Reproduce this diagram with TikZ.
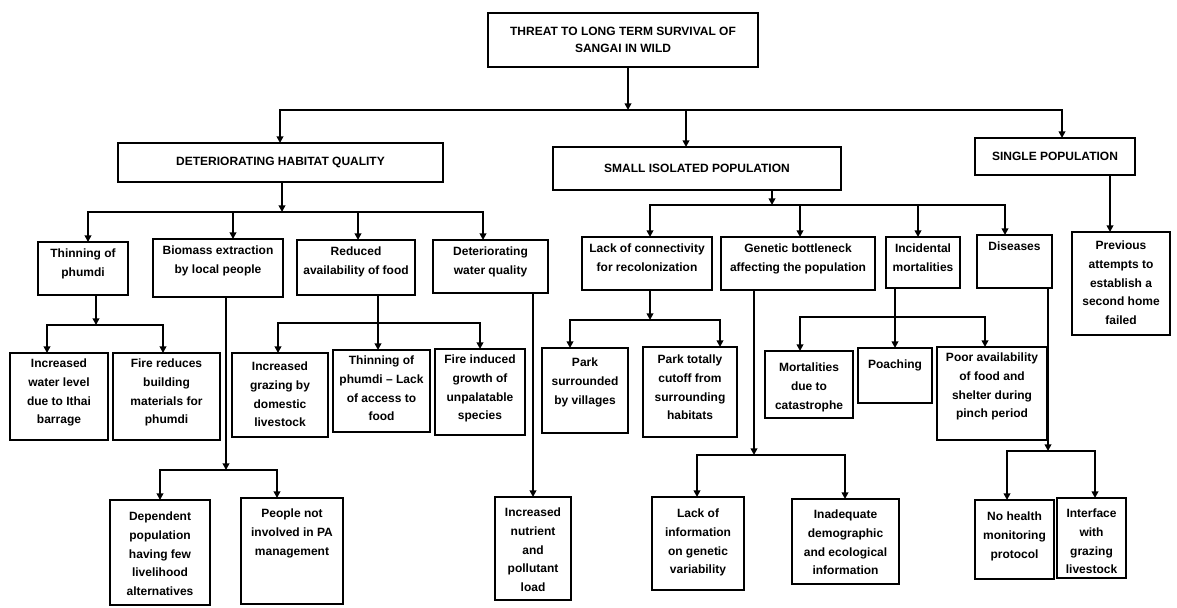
\documentclass[tikz,border=0pt]{standalone}
\usepackage{fontspec}
\setmainfont{Liberation Sans}
\usetikzlibrary{arrows.meta,calc}

\tikzset{
	box/.style={draw, line width=1.1pt, inner sep=0pt, outer sep=0pt},
	boxtext/.style={align=center, inner sep=0pt, font=\bfseries\fontsize{9}{14}\selectfont},
	head/.style={box, align=center, font=\bfseries\fontsize{9}{12.5}\selectfont},
	link/.style={line width=1.3pt, line cap=rect},
	arr/.style={link, -{Triangle[length=5pt,width=5pt]}},
}

% box with text at the top: [pad]{name}{x1}{y1}{x2}{y2}{text}
\newcommand{\bx}[7][7]{%
	\node[box, minimum width={(#5-#3)*0.75pt}, minimum height={(#6-#4)*0.75pt}] (#2) at ({(#3+#5)/2},{(#4+#6)/2}) {};
	\node[boxtext, anchor=north] (#2-t) at ($(#2.north)+(0,#1)$) {#7};}
% heading box with centred text
\newcommand{\hx}[6]{%
	\node[head, minimum width={(#4-#2)*0.75pt}, minimum height={(#5-#3)*0.75pt}] (#1) at ({(#2+#4)/2},{(#3+#5)/2}) {#6};}

\begin{document}
\begin{tikzpicture}[x=0.75pt, y=-0.75pt]
	\useasboundingbox (0,0) rectangle (1177,607);

	% Set up the boxes (threats and causes)
	\hx{top}{488}{13}{758}{67}{THREAT TO LONG TERM SURVIVAL OF\\ SANGAI IN WILD}
	\hx{dhq}{118}{143}{443}{182}{DETERIORATING HABITAT QUALITY}
	\hx{sip}{553}{147}{841}{190}{SMALL ISOLATED POPULATION}
	\hx{sp}{975}{138}{1135}{175}{SINGLE POPULATION}

	\bx{thin}{38}{242}{128}{295}{Thinning of\\ phumdi}
	\bx{bio}{153}{239}{283}{297}{Biomass extraction\\ by local people}
	\bx{red}{297}{240}{415}{295}{Reduced\\ availability of food}
	\bx{wat}{433}{240}{548}{293}{Deteriorating\\ water quality}
	\bx[6]{wlev}{10}{353}{108}{440}{Increased\\ water level\\ due to Ithai\\ barrage}
	\bx[6]{fire}{113}{353}{220}{440}{Fire reduces\\ building\\ materials for\\ phumdi}
	\bx[9]{graz}{232}{353}{328}{437}{Increased\\ grazing by\\ domestic\\ livestock}
	\bx[6]{thintwo}{333}{350}{430}{432}{Thinning of\\ phumdi -- Lack\\ of access to\\ food}
	\bx[6]{firetwo}{435}{349}{525}{435}{Fire induced\\ growth of\\ unpalatable\\ species}
	\bx[12]{dep}{110}{500}{210}{605}{Dependent\\ population\\ having few\\ livelihood\\ alternatives}
	\bx[11]{ppl}{241}{498}{343}{604}{People not\\ involved in PA\\ management}
	\bx[11]{nut}{495}{497}{571}{600}{Increased\\ nutrient\\ and\\ pollutant\\ load}

	\bx{lack}{582}{237}{712}{290}{Lack of connectivity\\ for recolonization}
	\bx{gen}{721}{237}{875}{290}{Genetic bottleneck\\ affecting the population}
	\bx{inc}{886}{237}{960}{288}{Incidental\\ mortalities}
	\bx{dis}{977}{235}{1052}{288}{Diseases}
	\bx[9]{prev}{1072}{232}{1170}{335}{Previous\\ attempts to\\ establish a\\ second home\\ failed}
	\bx[10]{parkone}{542}{348}{628}{433}{Park\\ surrounded\\ by villages}
	\bx[8]{parktwo}{643}{347}{737}{437}{Park totally\\ cutoff from\\ surrounding\\ habitats}
	\bx[12]{mort}{765}{351}{853}{418}{Mortalities\\ due to\\ catastrophe}
	\bx[12]{poach}{858}{348}{932}{403}{Poaching}
	\bx[6]{poor}{937}{347}{1047}{440}{Poor availability\\ of food and\\ shelter during\\ pinch period}
	\bx[12]{linfo}{652}{497}{744}{590}{Lack of\\ information\\ on genetic\\ variability}
	\bx[11]{inad}{792}{499}{899}{584}{Inadequate\\ demographic\\ and ecological\\ information}
	\bx[12]{nohe}{975}{500}{1054}{579}{No health\\ monitoring\\ protocol}
	\bx[11]{intf}{1057}{498}{1126}{578}{Interface\\ with\\ grazing\\ livestock}

	% Junctions on the branch bars
	\coordinate (t0) at (628,110); \coordinate (t1) at (280,110);
	\coordinate (t2) at (686,110); \coordinate (t3) at (1062,110);
	\coordinate (d0) at (282,212); \coordinate (d1) at (88,212);
	\coordinate (d2) at (233,212); \coordinate (d3) at (358,212);
	\coordinate (d4) at (483,212);
	\coordinate (h0) at (96,325); \coordinate (h1) at (47,325); \coordinate (h2) at (163,325);
	\coordinate (r0) at (378,323); \coordinate (r1) at (278,323); \coordinate (r2) at (480,323);
	\coordinate (o0) at (226,470); \coordinate (o1) at (160,470); \coordinate (o2) at (277,470);
	\coordinate (s0) at (772,205); \coordinate (s1) at (650,205);
	\coordinate (s2) at (800,205); \coordinate (s3) at (918,205);
	\coordinate (s4) at (1005,205);
	\coordinate (q0) at (1110,200);
	\coordinate (l0) at (650,320); \coordinate (l1) at (570,320); \coordinate (l2) at (720,320);
	\coordinate (i1) at (800,317); \coordinate (i2) at (985,317);
	\coordinate (g0) at (754,455); \coordinate (g1) at (697,455); \coordinate (g2) at (845,455);
	\coordinate (e0) at (1048,451); \coordinate (e1) at (1007,451); \coordinate (e2) at (1095,451);

	% Add the arrows
	\draw[arr] (top.south -| t0) -- (t0);
	\draw[link] (t1) -- (t3);
	\draw[arr] (t1) -- (t1 |- dhq.north);
	\draw[arr] (t2) -- (t2 |- sip.north);
	\draw[arr] (t3) -- (t3 |- sp.north);

	\draw[arr] (dhq.south -| d0) -- (d0);
	\draw[link] (d1) -- (d4);
	\draw[arr] (d1) -- (d1 |- thin.north);
	\draw[arr] (d2) -- (d2 |- bio.north);
	\draw[arr] (d3) -- (d3 |- red.north);
	\draw[arr] (d4) -- (d4 |- wat.north);

	\draw[arr] (thin.south -| h0) -- (h0);
	\draw[link] (h1) -- (h2);
	\draw[arr] (h1) -- (h1 |- wlev.north);
	\draw[arr] (h2) -- (h2 |- fire.north);

	\draw[arr] (red.south -| r0) -- (r0 |- thintwo.north);
	\draw[link] (r1) -- (r2);
	\draw[arr] (r1) -- (r1 |- graz.north);
	\draw[arr] (r2) -- (r2 |- firetwo.north);

	\draw[arr] (bio.south -| o0) -- (o0);
	\draw[link] (o1) -- (o2);
	\draw[arr] (o1) -- (o1 |- dep.north);
	\draw[arr] (o2) -- (o2 |- ppl.north);

	\draw[arr] (wat.south -| nut.north) -- (nut.north);

	\draw[arr] (sip.south -| s0) -- (s0);
	\draw[link] (s1) -- (s4);
	\draw[arr] (s1) -- (s1 |- lack.north);
	\draw[arr] (s2) -- (s2 |- gen.north);
	\draw[arr] (s3) -- (s3 |- inc.north);
	\draw[arr] (s4) -- (s4 |- dis.north);

	\draw[arr] (sp.south -| q0) -- (q0 |- prev.north);

	\draw[arr] (lack.south -| l0) -- (l0);
	\draw[link] (l1) -- (l2);
	\draw[arr] (l1) -- (l1 |- parkone.north);
	\draw[arr] (l2) -- (l2 |- parktwo.north);

	\draw[arr] (inc.south -| poach.north) -- (poach.north);
	\draw[link] (i1) -- (i2);
	\draw[arr] (i1) -- (i1 |- mort.north);
	\draw[arr] (i2) -- (i2 |- poor.north);

	\draw[arr] (gen.south -| g0) -- (g0);
	\draw[link] (g1) -- (g2);
	\draw[arr] (g1) -- (g1 |- linfo.north);
	\draw[arr] (g2) -- (g2 |- inad.north);

	\draw[arr] (dis.south -| e0) -- (e0);
	\draw[link] (e1) -- (e2);
	\draw[arr] (e1) -- (e1 |- nohe.north);
	\draw[arr] (e2) -- (e2 |- intf.north);
\end{tikzpicture}
\end{document}
